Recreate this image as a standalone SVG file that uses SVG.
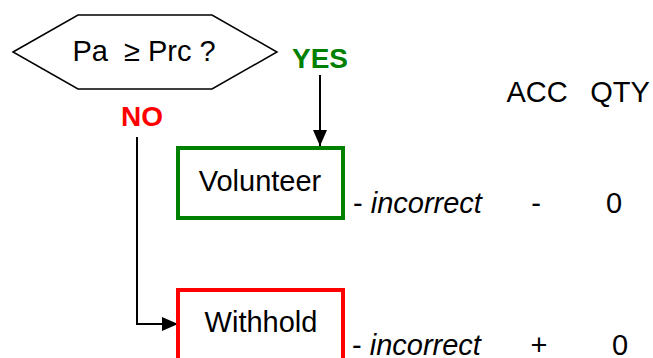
<svg xmlns="http://www.w3.org/2000/svg" width="653" height="358" viewBox="0 0 653 358">
  <style>
    text { font-family: "Liberation Sans", Arial, sans-serif; font-size: 29px; fill: #000; }
    .lbl { font-weight: bold; font-size: 28px; }
    .ital { font-style: italic; }
    .link { fill: none; stroke: #000; stroke-width: 2; }
  </style>
  <defs>
    <marker id="arrow" markerWidth="16" markerHeight="14" refX="16" refY="7" orient="auto" markerUnits="userSpaceOnUse">
      <path d="M0,0 L16,7 L0,14 Z" fill="#000"/>
    </marker>
  </defs>
  <rect width="653" height="358" fill="#fff"/>

  <!-- decision -->
  <g id="decision">
    <polygon points="13,52 78,15 212,15 277,52 212,89 78,89" fill="#fff" stroke="#000" stroke-width="1.5"/>
    <text x="144" y="61" text-anchor="middle" xml:space="preserve">Pa  ≥ Prc ?</text>
  </g>

  <!-- branch labels -->
  <text class="lbl" x="320" y="68" text-anchor="middle" style="fill:#008000">YES</text>
  <text class="lbl" x="142" y="126" text-anchor="middle" style="fill:#ff0000">NO</text>

  <!-- connectors -->
  <g id="connectors">
    <path class="link" d="M320,75 V146" marker-end="url(#arrow)"/>
    <path class="link" d="M137,137 V324 H178" marker-end="url(#arrow)"/>
  </g>

  <g id="volunteer">
    <rect x="178" y="148" width="165" height="70" fill="#fff" stroke="#008000" stroke-width="4"/>
    <text x="260" y="191" text-anchor="middle">Volunteer</text>
  </g>

  <g id="withhold">
    <rect x="178" y="290" width="165" height="72" fill="#fff" stroke="#ff0000" stroke-width="4"/>
    <text x="261" y="332" text-anchor="middle">Withhold</text>
  </g>

  <!-- outcome table -->
  <g id="table">
    <text x="537" y="102" text-anchor="middle">ACC</text>
    <text x="620" y="102" text-anchor="middle">QTY</text>
    <text x="353" y="213" xml:space="preserve">- <tspan class="ital">incorrect</tspan></text>
    <text x="536" y="213" text-anchor="middle">-</text>
    <text x="614" y="213" text-anchor="middle">0</text>
    <text x="352" y="355" xml:space="preserve">- <tspan class="ital">incorrect</tspan></text>
    <text x="539" y="355" text-anchor="middle">+</text>
    <text x="620" y="355" text-anchor="middle">0</text>
  </g>
</svg>
